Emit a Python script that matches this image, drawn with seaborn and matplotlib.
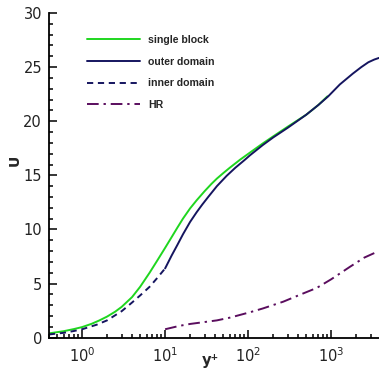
import matplotlib
matplotlib.use("Agg")
import matplotlib.pyplot as plt
from matplotlib.ticker import LogLocator, MultipleLocator, NullFormatter
import pandas as pd
import seaborn as sns

# Mean velocity profiles U(y+) for the different solution approaches
single_yp = [0.4, 0.6, 0.8, 1.0, 1.3, 1.6, 2.0, 2.5, 3.0, 4.0, 5.0, 6.5, 8.0, 10, 12,
             14, 16.4, 20, 24, 30, 36, 42, 50, 60, 80, 105, 150, 200, 300, 500, 700, 900]
single_u = [0.40, 0.60, 0.80, 0.98, 1.28, 1.58, 1.95, 2.40, 2.85, 3.75, 4.70, 6.00, 7.10,
            8.30, 9.30, 10.15, 11.0, 11.95, 12.7, 13.55, 14.2, 14.7, 15.2, 15.7, 16.45,
            17.1, 17.95, 18.6, 19.5, 20.6, 21.5, 22.3]

outer_yp = [10, 12, 14, 16.4, 20, 24, 28, 33, 42, 55, 70, 90, 105, 150, 200, 300, 500,
            700, 920, 1270, 1820, 2300, 2800, 3300, 3760]
outer_u = [6.4, 7.6, 8.55, 9.55, 10.7, 11.6, 12.3, 13.0, 14.0, 14.95, 15.7, 16.4, 16.85,
           17.8, 18.5, 19.4, 20.6, 21.5, 22.3, 23.4, 24.4, 25.0, 25.45, 25.7, 25.85]

inner_yp = [0.4, 0.6, 0.8, 1.0, 1.5, 2.0, 3.0, 4.0, 5.0, 6.5, 8.0, 10]
inner_u = [0.30, 0.45, 0.62, 0.78, 1.20, 1.60, 2.45, 3.25, 3.90, 4.70, 5.50, 6.40]

hr_yp = [10, 15, 20, 30, 42, 60, 105, 150, 265, 400, 670, 1000, 1680, 2500, 3600]
hr_u = [0.78, 1.10, 1.27, 1.45, 1.60, 1.85, 2.35, 2.70, 3.33, 3.90, 4.60, 5.40, 6.55,
        7.40, 7.95]

series_names = ["single block", "outer domain", "inner domain", "HR"]
series_colors = ["#1fd61f", "#15155f", "#15155f", "#5a0d5e"]

frames = []
for name, xs, ys in zip(series_names,
                        [single_yp, outer_yp, inner_yp, hr_yp],
                        [single_u, outer_u, inner_u, hr_u]):
    frames.append(pd.DataFrame({"yplus": xs, "U": ys, "case": name}))
df = pd.concat(frames, ignore_index=True)

sns.set_style("ticks")
plt.rcParams["font.family"] = ["DejaVu Sans"]

fig = plt.figure(figsize=(3.79, 3.72), dpi=100)
ax = fig.add_axes([49 / 379, 1 - 337.7 / 372, 1 - 49 / 379, (337.7 - 13) / 372])

sns.lineplot(data=df, x="yplus", y="U", hue="case", style="case",
             hue_order=series_names, style_order=series_names,
             palette=dict(zip(series_names, series_colors)),
             dashes={"single block": "",
                     "outer domain": "",
                     "inner domain": (3.2, 2.4),
                     "HR": (6, 2.5, 1.2, 2.5)},
             sort=False, estimator=None, linewidth=1.4, ax=ax)

ax.set_xscale("log")
ax.set_xlim(0.4, 3760)
ax.set_ylim(0, 30)

ax.yaxis.set_major_locator(MultipleLocator(5))
ax.yaxis.set_minor_locator(MultipleLocator(1))
ax.xaxis.set_major_locator(LogLocator(base=10, numticks=10))
ax.xaxis.set_minor_locator(LogLocator(base=10, subs=range(2, 10), numticks=20))
ax.xaxis.set_minor_formatter(NullFormatter())

ax.tick_params(which="both", direction="in", colors="black", width=1.1,
               labelsize=10.5, labelcolor="#222222")
ax.tick_params(which="major", length=6)
ax.tick_params(which="minor", length=3)
ax.tick_params(axis="y", pad=5)
ax.tick_params(axis="x", pad=6)

for side in ["top", "right"]:
    ax.spines[side].set_visible(False)
for side in ["left", "bottom"]:
    ax.spines[side].set_color("black")
    ax.spines[side].set_linewidth(1.3)

ax.set_xlabel("y⁺", fontsize=10.5, fontweight="bold")
ax.set_ylabel("U", fontsize=10, fontweight="bold")
ax.xaxis.set_label_coords(0.49, -0.048)
ax.yaxis.set_label_coords(-0.082, 0.547)

leg = ax.legend(loc="upper left", bbox_to_anchor=(87 / 379, 1 - 35 / 372),
                bbox_transform=fig.transFigure, frameon=False,
                borderpad=0, borderaxespad=0, handlelength=5.0,
                handletextpad=0.8, labelspacing=1.1,
                prop={"family": "Liberation Sans", "weight": "bold", "size": 7.6})

fig.savefig("out.png", dpi=100)
